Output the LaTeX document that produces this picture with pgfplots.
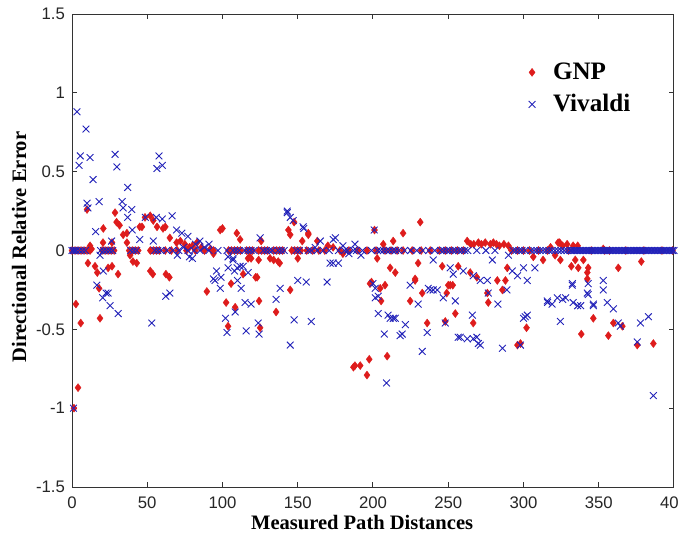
\documentclass[border=0pt]{standalone}
\usepackage{fontspec}
\setmainfont{Liberation Serif}
\setsansfont{Liberation Sans}
\usepackage{pgfplots}
\pgfplotsset{compat=1.18}
\definecolor{gnpred}{RGB}{222,28,28}
\definecolor{vivblue}{RGB}{35,35,185}
\begin{document}
\begin{tikzpicture}
\useasboundingbox (-36bp,-27bp) rectangle (303bp,243.5bp);
\begin{axis}[
  scale only axis, width=301bp, height=236.5bp,
  xmin=0, xmax=400, ymin=-1.5, ymax=1.5,
  xtick={0,50,...,400}, ytick={-1.5,-1,-0.5,0,0.5,1,1.5},
  xticklabels={0,50,100,150,200,250,300,350,400},
  yticklabels={-1.5,-1,-0.5,0,0.5,1,1.5},
  tick align=inside, major tick length=2.5bp,
  tick style={black!80, line width=0.5bp},
  axis line style={black!80, line width=0.5bp},
  ticklabel style={font=\sffamily\fontsize{8.4}{10}\selectfont, text=black!85},
  xticklabel style={yshift=-1.2bp},
  xlabel={Measured Path Distances},
  ylabel={Directional Relative Error},
  label style={font=\bfseries\fontsize{10.3}{12}\selectfont},
  xlabel style={at={(axis description cs:0.482,-0.0909)}, anchor=base},
  ylabel style={at={(axis description cs:-0.0764,0.507)}, anchor=base},
  legend style={at={(axis description cs:0.747,0.915)}, anchor=north west,
    draw=none, fill=none, font=\bfseries\fontsize{12.6}{14}\selectfont,
    row sep=2bp},
  legend cell align=left,
  legend image code/.code={\path[draw=none,fill=none] (0.2cm-2bp,0cm) rectangle (0.2cm+8.5bp,0.1bp);\draw[mark repeat=2,mark phase=2] plot coordinates {(0cm,0cm)(0.2cm,0cm)(0.4cm,0cm)};},
]
\addplot[only marks, mark=diamond*, mark size=2bp, color=gnpred, mark options={draw=gnpred, fill=gnpred, line width=0.2bp}] coordinates {
(0,0)(2,0)(4,0)(6,0)(8,0)(10,0)(12,0)(20,0)(22,0)(24,0)(26,0)(28,0)(38,0)(40,0)(42,0)(44,0)
(52,0)(54,0)(56,0)(58,0)(62,0)(66,0)(70,0)(76,0)(82,0)(88,0)(94,0)(104,0)(106,0)(108,0)(110,0)(112,0)
(116,0)(118,0)(120,0)(124,0)(126,0)(128,0)(130,0)(134,0)(136,0)(138,0)(140,0)(146,0)(148,0)(150,0)(152,0)
(156,0)(160,0)(164,0)(168,0)(178,0)(184,0)(190,0)(196,0)(202,0)(208,0)(212,0)(216,0)(220,0)(226,0)(232,0)
(238,0)(244,0)(248,0)(252,0)(256,0)(260,0)(292,0)(296,0)(300,0)(304,0)(310,0)(316,0)(330,0)(345,0)(354,0)
(357,0)(368,0)(380,0)(392,0)(399,0)
(1.3,-1.0)(2.6,-0.34)(4,-0.87)(5.8,-0.46)(10,0.26)(10.6,-0.08)(12,0.03)(13,0.01)(15.3,-0.10)(16.8,-0.14)
(18,-0.24)(18.6,-0.43)(20.6,0.05)(20.8,0.14)(24,-0.11)(26.6,-0.10)(26.6,0.05)(28.6,0.24)(29.6,0.18)(30.6,-0.15)
(31.6,0.16)(34,0.10)(36.5,0.05)(36.5,0.11)(38.6,-0.03)(40.5,-0.07)(43,-0.08)(45,0.15)(46.5,0.15)(48.5,0.21)
(52,0.22)(52,-0.13)(53.7,-0.15)(54,0.19)(56.5,0.15)(60.5,0.14)(62,0.15)(62.4,-0.15)(64.7,-0.17)(65,0.08)
(69.5,0.05)(72,0.06)(75,0.04)(78,0.02)(80,0.03)(83,0.05)(86,0.02)(89.6,-0.26)(92,0.01)(94,-0.02)
(98.5,0.13)(100,0.14)(102.4,-0.33)(103.7,-0.48)(105.7,-0.21)(108.4,-0.36)(109.5,0.11)(111.7,0.07)(113.7,-0.15)
(117,-0.05)(118,-0.04)(119,-0.05)(122,-0.17)(123,-0.17)(124,-0.06)(124.3,-0.32)(125,-0.49)(125.7,0.06)
(131.6,-0.05)(134,-0.06)(135.6,-0.39)(137,-0.07)(138,-0.08)(143.8,0.13)(145,0.10)(145,-0.25)(147.6,0.18)
(150,-0.05)(153,0.06)(157,0.10)(157,0.11)(163,0.06)(170,0.03)(173.5,0.02)(180,-0.02)
(187,-0.74)(188,-0.73)(191.5,-0.73)(196,-0.79)(197.5,-0.69)(198,-0.21)(199,-0.20)(201,0.13)(202.8,-0.05)
(204.8,-0.24)(205.4,-0.32)(206.8,0.04)(208,-0.22)(209.4,-0.67)(211.4,-0.11)(213.4,0.06)(214.8,-0.14)(220,0.11)
(224.7,-0.32)(228,-0.18)(228,-0.19)(230,-0.08)(231.4,0.18)(232.7,-0.27)(236,-0.46)(246,-0.10)(248,-0.45)
(249,-0.27)(250,-0.22)(251.3,-0.22)(253,-0.22)(254.7,-0.40)(256.6,-0.10)(262.6,0.06)(264.6,-0.14)(265,0.04)
(266.6,-0.46)(267,0.04)(269,-0.17)(270,0.05)(272,0.04)(274.6,0.05)(276,-0.27)(276.6,-0.33)(278,0.04)(280,0.05)
(282,0.04)(282.6,-0.19)(284,0.03)(286,-0.25)(287,0.04)(288,-0.19)(289.2,-0.11)(290,0.03)(296,-0.60)(298,-0.59)
(302,-0.49)(306.5,-0.04)(313,-0.06)(318,0.02)(321,-0.03)(323,0.05)(324,0.05)(324.5,-0.06)(326,0.03)(329,0.04)
(331.8,-0.10)(333,0.03)(334.4,-0.06)(336,0.03)(336.4,-0.11)(338.4,-0.53)(339.8,-0.06)(342.4,-0.18)(342.4,-0.14)
(343,-0.11)(346.4,-0.43)(353,0.01)(356.4,-0.54)(359.7,-0.46)(363,-0.11)(365.7,-0.48)(375.6,-0.60)(378.3,-0.07)
(386.3,-0.59)
};
\addlegendentry{GNP}
\addplot[only marks, mark=x, mark size=2.4bp, color=vivblue, mark options={line width=0.45bp}] coordinates {
(0,0)(1,0)(2,0)(3,0)(5,0)(7,0)(9,0)(19,0)(21,0)(23,0)(25,0)(27,0)(39,0)(41,0)(43,0)(55,0)(57,0)(59,0)
(63,0)(67,0)(71,0)(77,0)(81,0)(85,0)(91,0)(97,0)(103,0)(107,0)(109,0)(111,0)(115,0)(117,0)(119,0)(121,0)
(127,0)(129,0)(131,0)(133,0)(137,0)(139,0)(141,0)(149,0)(151,0)(157,0)(159,0)(163,0)(167,0)(171,0)(177,0)
(181,0)(183,0)(187,0)(189,0)(193,0)(199,0)(203,0)(205,0)(207,0)(209,0)(211,0)(213,0)(215,0)(217,0)(221,0)
(225,0)(229,0)(233,0)(237,0)(241,0)(245,0)(247,0)(249,0)(251,0)(253,0)(255,0)(257,0)(259,0)(261,0)(263,0)
(269,0)(275,0)(281,0)(293,0)(295,0)(297,0)(299,0)(301,0)(305,0)(307,0)(309,0)(311,0)(313,0)(315,0)(317,0)
(319,0)(321,0)(323,0)(325,0)(327,0)(329,0)
(331,0)(332,0)(333,0)(334,0)(335,0)(336,0)(337,0)(338,0)(339,0)(340,0)(341,0)(342,0)(343,0)(344,0)(345,0)
(346,0)(347,0)(348,0)(349,0)(350,0)(351,0)(352,0)(353,0)(354,0)(355,0)(356,0)(357,0)(358,0)(359,0)(360,0)
(361,0)(362,0)(363,0)(364,0)(365,0)(366,0)(367,0)(368,0)(369,0)(370,0)(371,0)(372,0)(373,0)(374,0)(375,0)
(376,0)(377,0)(378,0)(379,0)(380,0)(381,0)(382,0)(383,0)(384,0)(385,0)(386,0)(387,0)(388,0)(389,0)(390,0)
(391,0)(392,0)(393,0)(394,0)(395,0)(396,0)(397,0)(398,0)(399,0)(400,0)
(1,-1.0)(3.3,0.88)(4.7,0.54)(5.5,0.60)(9.3,0.77)(10,0.30)(10.6,0.27)(12,0.59)(14,0.45)(15.7,0.12)(16.5,-0.22)
(18,0.31)(18.6,-0.03)(20.4,-0.30)(20.8,-0.13)(22.6,-0.27)(24,-0.27)(25.3,-0.35)(26.3,0.06)(28.6,0.61)(29.8,0.53)
(30.7,-0.40)(33.3,0.31)(34,0.27)(37,0.40)(37,0.21)(39.7,0.26)(40,0.13)(45,0.07)(48.7,0.21)(53,-0.46)(54,0.06)
(56,0.21)(56.4,0.52)(57.8,0.60)(60,0.54)(60,0.20)(62.3,-0.29)(65,-0.27)(66.5,0.22)(69.5,0.13)(70,-0.03)(73,0.11)
(74,0.02)(77,0.09)(78,-0.04)(80,-0.05)(82,0.04)(85,0.06)(88,0.02)(91,0.04)(94,-0.18)(95,-0.19)(96,-0.13)
(98.5,-0.24)(99,-0.17)(102,-0.43)(103,-0.52)(103.7,-0.04)(103.7,-0.11)(107,-0.05)(107,-0.06)(108,-0.13)
(108.4,-0.39)(109.7,-0.11)(110,-0.19)(111.7,-0.10)(112.4,-0.24)(113.7,-0.10)(115,-0.33)(115.7,-0.51)(117,-0.14)
(119,-0.34)(123.7,-0.46)(124.3,-0.53)(125,0.08)(135.6,-0.31)(138.3,-0.24)(143,0.24)(143,0.25)(145,0.21)
(145,-0.60)(147,0.19)(147.6,-0.44)(150,-0.19)(153.6,0.15)(154,0.14)(155.6,-0.20)(159,-0.45)(161.6,0.02)
(165,0.06)(169.5,-0.20)(171.5,-0.08)(173.5,-0.08)(173.6,0.07)(175,0.08)(177,-0.08)(180,0.03)(184,-0.02)
(188,0.04)(192,-0.03)(200,-0.21)(200.8,0.13)(201.5,-0.30)(201.5,-0.24)(203.5,-0.29)(203.5,-0.40)(207.5,-0.53)
(209,-0.84)(210,-0.41)(211.4,-0.43)(213.5,-0.43)(214.8,-0.43)(218,-0.54)(219.4,-0.53)(221.5,-0.47)(224.7,-0.22)
(230,-0.34)(232.7,-0.64)(236,-0.52)(236.7,-0.24)(238,-0.25)(240,-0.25)(240,-0.06)(242.7,-0.25)(246.7,-0.30)
(248,-0.46)(251.3,-0.11)(253.3,-0.15)(254.7,-0.32)(256.6,-0.55)(258,-0.55)(260,-0.13)(262.6,-0.56)(266,-0.41)
(266.6,-0.56)(266.6,-0.16)(269,-0.55)(270,-0.59)(271.3,-0.19)(271.3,-0.60)(276,-0.19)(276.6,-0.27)(279.3,-0.06)
(283,-0.34)(286,-0.62)(289,-0.25)(290,-0.03)(292.6,-0.13)(296,-0.16)(298,-0.60)(300,-0.43)(300,-0.11)
(301.2,-0.42)(302.5,-0.41)(302.5,-0.19)(307.6,-0.11)(315.8,-0.32)(316,-0.33)(319,-0.34)(322.5,-0.30)
(324.5,-0.45)(326,-0.31)(328,-0.30)(332.4,-0.22)(332.5,-0.21)(333,-0.33)(336,-0.35)(338,-0.35)(342.4,-0.27)
(343,-0.21)(343,-0.28)(346.4,-0.34)(346.4,-0.35)(353,-0.25)(353,-0.19)(355.7,-0.33)(359.7,-0.37)(363,-0.46)
(364.4,-0.48)(375.6,-0.58)(377.7,-0.46)(383,-0.42)(386.3,-0.92)
};
\addlegendentry{Vivaldi}
\end{axis}
\end{tikzpicture}
\end{document}
